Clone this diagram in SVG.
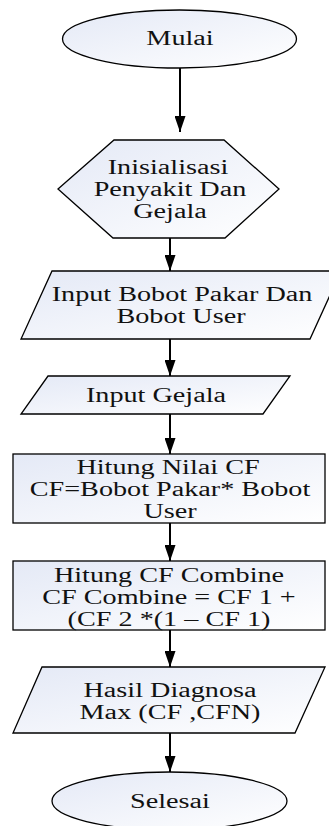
<svg xmlns="http://www.w3.org/2000/svg" width="329" height="826" viewBox="0 0 329 826">
<style>
.s{stroke:#000;stroke-width:1.3;fill:url(#g)}
.t{font-family:"Liberation Serif","Times New Roman",serif;font-size:20px;fill:#111;text-anchor:middle}
.c{stroke:#000;stroke-width:2;fill:none}
</style>
<defs>
<linearGradient id="g" x1="0" y1="0" x2="1" y2="1">
<stop offset="0" stop-color="#e4e9f6"/>
<stop offset="1" stop-color="#ffffff"/>
</linearGradient>
<marker id="a" markerWidth="17" markerHeight="11" refX="16" refY="5.5" orient="auto" markerUnits="userSpaceOnUse">
<path d="M0,0 L16,5.5 L0,11 Z" fill="#000"/>
</marker>
</defs>
<rect width="329" height="826" fill="#fff"/>
<g id="connectors">
<line class="c" x1="180" y1="68" x2="180" y2="132" marker-end="url(#a)"/>
<line class="c" x1="170" y1="238" x2="170" y2="271" marker-end="url(#a)"/>
<line class="c" x1="170" y1="339" x2="170" y2="376" marker-end="url(#a)"/>
<line class="c" x1="170" y1="414" x2="170" y2="454" marker-end="url(#a)"/>
<line class="c" x1="170" y1="523" x2="170" y2="561" marker-end="url(#a)"/>
<line class="c" x1="170" y1="630" x2="170" y2="667" marker-end="url(#a)"/>
<line class="c" x1="170" y1="733" x2="170" y2="772" marker-end="url(#a)"/>
</g>
<g id="mulai">
<ellipse class="s" cx="179.5" cy="39" rx="117" ry="29"/>
<text class="t" transform="translate(180,45) scale(1.41,1)">Mulai</text>
</g>
<g id="inisialisasi">
<polygon class="s" points="114,140 224,140 279,189 225,238 113,238 58,189"/>
<text class="t" transform="translate(168,174) scale(1.41,1)">Inisialisasi</text>
<text class="t" transform="translate(170,196) scale(1.41,1)">Penyakit Dan</text>
<text class="t" transform="translate(170,218) scale(1.41,1)">Gejala</text>
</g>
<g id="input-bobot">
<polygon class="s" points="52,271 341,271 310,339 21,339"/>
<text class="t" transform="translate(182,301) scale(1.41,1)">Input Bobot Pakar Dan</text>
<text class="t" transform="translate(181,323) scale(1.41,1)">Bobot User</text>
</g>
<g id="input-gejala">
<polygon class="s" points="48,376 290,376 263,414 21,414"/>
<text class="t" transform="translate(156,402) scale(1.41,1)">Input Gejala</text>
</g>
<g id="hitung-cf">
<rect class="s" x="13" y="454" width="312" height="69"/>
<text class="t" transform="translate(168,474) scale(1.41,1)">Hitung Nilai CF</text>
<text class="t" transform="translate(170,496) scale(1.41,1)">CF=Bobot Pakar* Bobot</text>
<text class="t" transform="translate(170,518) scale(1.41,1)">User</text>
</g>
<g id="hitung-combine">
<rect class="s" x="13" y="561" width="312" height="69"/>
<text class="t" transform="translate(169,582) scale(1.41,1)">Hitung CF Combine</text>
<text class="t" transform="translate(169,604) scale(1.41,1)">CF Combine = CF 1 +</text>
<text class="t" transform="translate(169,626) scale(1.41,1)">(CF 2 *(1 – CF 1)</text>
</g>
<g id="hasil">
<polygon class="s" points="42,667 325,667 295,733 13,733"/>
<text class="t" transform="translate(170,697) scale(1.41,1)">Hasil Diagnosa</text>
<text class="t" transform="translate(170,719) scale(1.41,1)">Max (CF ,CFN)</text>
</g>
<g id="selesai">
<ellipse class="s" cx="169.5" cy="801" rx="117.5" ry="29"/>
<text class="t" transform="translate(170,808) scale(1.41,1)">Selesai</text>
</g>
</svg>
